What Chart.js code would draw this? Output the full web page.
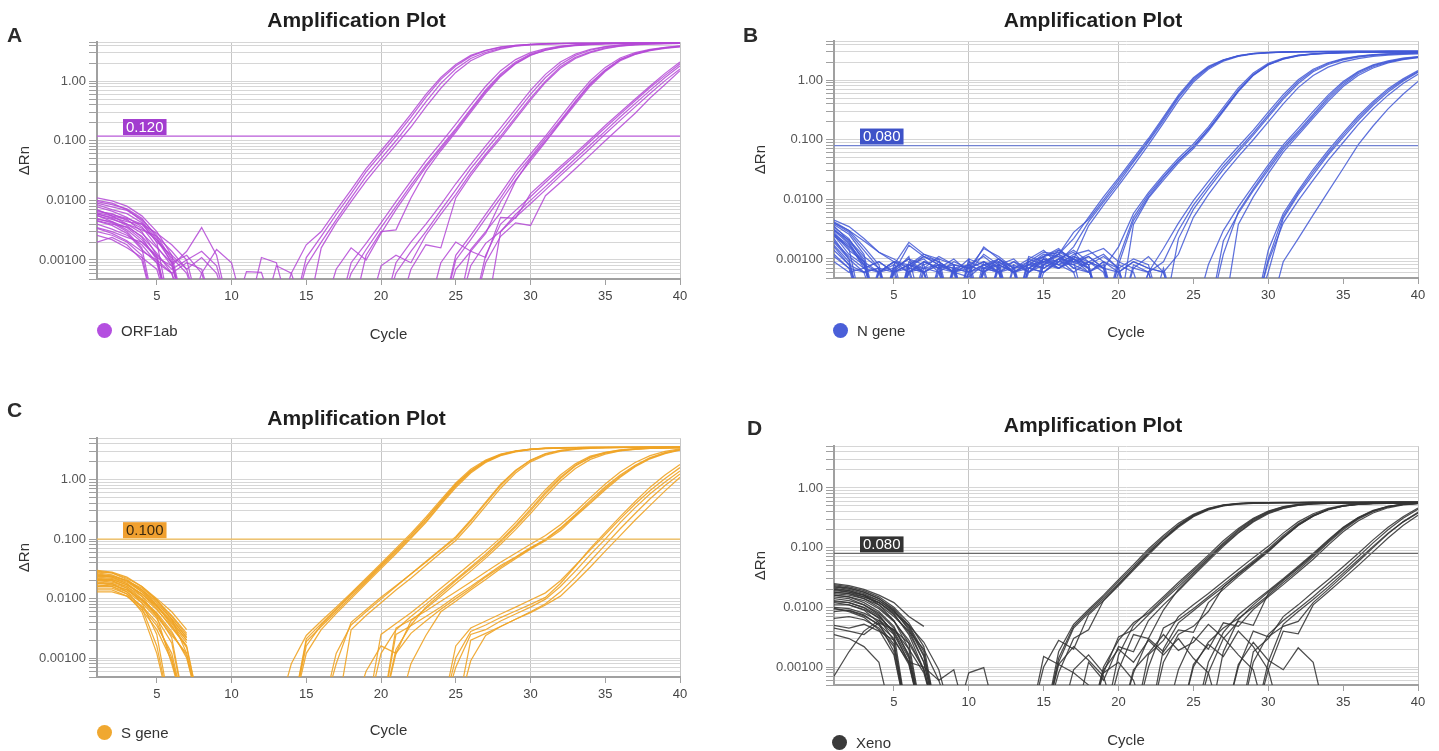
<!DOCTYPE html>
<html><head><meta charset="utf-8">
<script src="https://cdn.jsdelivr.net/npm/chart.js@4.4.1/dist/chart.umd.min.js"></script>
<style>
html,body{margin:0;padding:0;background:#fff;}
body{width:1439px;height:751px;position:relative;overflow:hidden;font-family:'Liberation Sans',Arial,Helvetica,sans-serif;}
canvas{position:absolute;}
.letter{position:absolute;font-weight:bold;font-size:21px;line-height:21px;color:#2b2b2b;}
.leg{position:absolute;display:flex;align-items:center;font-size:15px;color:#333;height:16px;}
.leg .dot{display:inline-block;width:15px;height:15px;border-radius:50%;margin-right:9px;}
</style></head><body>
<canvas id="cA" width="713" height="372" style="left:0px;top:0px"></canvas>
<canvas id="cB" width="704" height="372" style="left:735px;top:0px"></canvas>
<canvas id="cC" width="713" height="352" style="left:0px;top:398px"></canvas>
<canvas id="cD" width="704" height="346" style="left:735px;top:405px"></canvas>
<div class="letter" style="left:7px;top:24px">A</div>
<div class="letter" style="left:743px;top:24px">B</div>
<div class="letter" style="left:7px;top:399px">C</div>
<div class="letter" style="left:747px;top:417px">D</div>
<div class="leg" style="left:97px;top:322px"><span class="dot" style="background:#b44fe0"></span>ORF1ab</div>
<div class="leg" style="left:833px;top:322px"><span class="dot" style="background:#4a5fd8"></span>N gene</div>
<div class="leg" style="left:97px;top:724px"><span class="dot" style="background:#f0a830"></span>S gene</div>
<div class="leg" style="left:832px;top:734px"><span class="dot" style="background:#3a3a3a"></span>Xeno</div>
<script>
Chart.defaults.font.family = "'Liberation Sans', Arial, Helvetica, sans-serif";
const z = 0.0001;   // below the axis floor (trace dives off the bottom)
const _ = null;     // negative ΔRn, not drawn on log axis

const cycles = [1,2,3,4,5,6,7,8,9,10,11,12,13,14,15,16,17,18,19,20,21,22,23,24,25,26,27,28,29,30,31,32,33,34,35,36,37,38,39,40];
const xTicks = [5,10,15,20,25,30,35,40];
const yTicksAB = [0.00048,0.0006,0.0007,0.0008,0.0009,0.001,0.002,0.003,0.004,0.005,0.006,0.007,0.008,0.009,0.01,0.02,0.03,0.04,0.05,0.06,0.07,0.08,0.09,0.1,0.2,0.3,0.4,0.5,0.6,0.7,0.8,0.9,1,2,3,4,4.5];
const yTicksC = [0.00048,0.0006,0.0007,0.0008,0.0009,0.001,0.002,0.003,0.004,0.005,0.006,0.007,0.008,0.009,0.01,0.02,0.03,0.04,0.05,0.06,0.07,0.08,0.09,0.1,0.2,0.3,0.4,0.5,0.6,0.7,0.8,0.9,1,2,3,4,5];
const yTicksD = [0.0005,0.0006,0.0007,0.0008,0.0009,0.001,0.002,0.003,0.004,0.005,0.006,0.007,0.008,0.009,0.01,0.02,0.03,0.04,0.05,0.06,0.07,0.08,0.09,0.1,0.2,0.3,0.4,0.5,0.6,0.7,0.8,0.9,1,2,3,4,5];
const yTickText = {'1':'1.00','0.1':'0.100','0.01':'0.0100','0.001':'0.00100'};
const thresholds = [0.12, 0.08, 0.1, 0.08];
const thresholdText = ['0.120','0.080','0.100','0.080'];
const targets = ['ORF1ab','N gene','S gene','Xeno'];

// ---------- A: ORF1ab ----------
const A01=[.011,.0098,.008,.0055,.003,.0012,z,z,z,z, z,z,z,z,.0011,.0025,.0058,.013,.03,.06, .12,.25,.54,1.07,1.8,2.6,3.25,3.7,4.0,4.15, 4.25,4.3,4.33,4.35,4.36,4.37,4.38,4.38,4.39,4.39];
const A02=[.0095,.0085,.0072,.005,.0024,.0009,z,z,z,z, z,z,z,z,.0008,.002,.0047,.011,.025,.05, .1,.21,.45,.92,1.6,2.4,3.05,3.55,3.9,4.1, 4.2,4.26,4.3,4.32,4.34,4.35,4.36,4.36,4.37,4.37];
const A03=[.0085,.007,.006,.0042,.002,z,z,z,z,z, z,z,z,.0006,.0018,.003,.0068,.015,.034,.068, .135,.28,.6,1.15,1.9,2.7,3.3,3.75,4.0,4.15, 4.25,4.3,4.33,4.35,4.37,4.38,4.39,4.4,4.4,4.41];
const A04=[.0078,.0066,.0052,.0036,.0017,.0008,z,z,z,z, z,z,z,z,z,.0016,.0042,.0095,.021,.043, .085,.17,.37,.76,1.4,2.2,2.9,3.45,3.85,4.05, 4.17,4.24,4.28,4.31,4.33,4.34,4.35,4.36,4.36,4.37];
const A05=[.007,.0055,.0048,.003,.0012,z,z,z,z,z, z,z,z,z,z,z,z,.0006,.0015,.0035, .0079,.018,.039,.079,.16,.34,.71,1.32,2.1,2.85, 3.4,3.8,4.05,4.2,4.28,4.32,4.35,4.37,4.38,4.39];
const A06=[.0065,.006,.0046,.0034,.0022,.0011,.0006,z,z,z, z,z,z,z,z,z,z,.0009,.0019,.0042, .0095,.021,.046,.092,.19,.4,.82,1.5,2.3,3.0, 3.5,3.85,4.05,4.18,4.25,4.3,4.33,4.35,4.36,4.37];
const A07=[.006,.005,.0038,.0024,.001,z,z,z,z,z, z,z,z,z,z,z,.0007,.0016,.001,.0028, .007,.016,.036,.074,.15,.32,.67,1.25,2.0,2.75, 3.3,3.75,4.0,4.15,4.24,4.3,4.33,4.35,4.36,4.37];
const A08=[.0055,.0048,.004,.0028,.0016,.0009,.0012,.0006,z,z, z,z,z,z,z,z,z,z,.0012,.003, .0032,.011,.031,.068,.14,.3,.63,1.2,1.95,2.7, 3.3,3.7,3.95,4.1,4.2,4.27,4.31,4.33,4.35,4.36];
const A09=[.005,.0042,.003,.0016,z,z,z,z,z,z, z,z,z,z,z,z,z,z,z,z, .0006,.0014,.003,.0068,.015,.034,.07,.14,.29,.6, 1.15,1.9,2.7,3.3,3.75,4.0,4.15,4.25,4.3,4.33];
const A10=[.0046,.004,.0036,.0025,.0013,.0006,z,z,z,z, z,z,z,z,z,z,z,z,z,z, .0009,.002,.004,.0085,.019,.04,.082,.165,.34,.7, 1.3,2.1,2.85,3.4,3.8,4.05,4.2,4.28,4.32,4.35];
const A11=[.004,.0033,.0026,.0018,.0009,z,z,z,z,z, z,z,z,z,z,z,z,z,z,.0008, .0012,.0009,.0026,.0058,.0125,.029,.06,.12,.25,.52, 1.0,1.75,2.5,3.1,3.6,3.9,4.1,4.2,4.27,4.31];
const A12=[.0035,.003,.0024,.002,.0012,.0007,.001,z,z,z, z,z,z,z,z,z,z,z,z,z, z,.0007,.0018,.0016,.011,.026,.056,.11,.23,.48, .95,1.65,2.4,3.0,3.5,3.85,4.05,4.17,4.25,4.3];
const A13=[.003,.0026,.002,.0012,z,z,z,z,z,z, z,z,z,z,z,z,z,z,z,z, z,z,z,z,.001,.0022,.005,.011,.026,.053, .11,.22,.46,.92,1.55,2.3,2.85,3.3,3.6,3.8];
const A14=[.0026,.0022,.0016,.0011,.0007,z,z,z,z,z, z,z,z,z,z,z,z,z,z,z, z,z,z,z,.0012,.0026,.0058,.013,.03,.06, .12,.25,.52,1.02,1.7,2.45,3.0,3.4,3.7,3.9];
const A15=[.002,.0024,.0018,.001,z,z,z,z,z,z, z,z,z,z,z,z,z,z,z,z, z,z,z,.0009,.002,.0014,.0028,.0095,.022,.046, .095,.2,.41,.83,1.45,2.2,2.8,3.25,3.55,3.75];
const A16=[.0058,.0052,.0044,.004,.0028,.0018,.001,.0014,.0008,z, z,z,z,z,z,z,z,z,z,z, z,z,z,z,z,.0015,.003,.0062,.021,.05, .1,.21,.44,.88,1.5,2.3,2.9,3.35,3.65,3.85];
const A17=[.009,.0078,.0068,.0048,.0026,.001,z,z,z,z, z,z,z,z,z,z,z,z,z,z, z,z,z,z,z,z,.0012,.004,.0068,.0115, .02,.034,.057,.097,.165,.28,.47,.78,1.25,1.95];
const A18=[.0068,.0058,.005,.004,.002,.0012,.0007,z,z,z, z,z,z,z,z,z,z,z,z,z, z,z,z,z,z,.0008,.0019,.003,.0052,.0088, .015,.026,.044,.075,.13,.22,.37,.62,1.02,1.6];
const A19=[.0048,.0044,.0035,.0022,.0011,z,z,z,z,z, z,z,z,z,z,z,z,z,z,z, z,z,z,z,.0007,.0014,.0011,.0052,.005,.013, .022,.037,.062,.105,.18,.3,.5,.83,1.35,2.1];
const A20=[.0062,.0055,.004,.0032,.0025,.0014,.0007,.0011,.0006,z, z,z,z,z,z,z,z,z,z,z, z,z,z,z,z,z,.0009,.0025,.0042,.0038, .012,.02,.034,.058,.1,.17,.29,.52,.88,1.5];
const A21=[.01,.009,.007,.0045,.0022,.0009,z,z,z,z, z,z,z,z,z,z,z,z,z,z, z,z,z,z,z,z,z,.003,.0058,.01, .017,.029,.05,.085,.145,.25,.42,.7,1.15,1.8];
const A22=[.0056,.0044,.0032,.002,.0011,.0008,.0014,.0035,.0012,z, z,.0011,.0009,z,z,z,z,z,z,z, z,z,z,z,z,z,z,z,z,z, z,z,z,z,z,z,z,z,z,z];
const A23=[.0045,.0038,.0028,.0015,.0009,.0006,.0009,.0007,z,z, .00064,.00062,z,z,z,z,z,z,z,z, z,z,z,z,z,z,z,z,z,z, z,z,z,z,z,z,z,z,z,z];
const A24=[.0034,.0028,.0021,.0014,.001,.0006,z,.0006,.0015,.0009, z,z,.0008,.0006,z,z,z,z,z,z, z,z,z,z,z,z,z,z,z,z, z,z,z,z,z,z,z,z,z,z];
const curvesA=[A01,A02,A03,A04,A05,A06,A07,A08,A09,A10,A11,A12,A13,A14,A15,A16,A17,A18,A19,A20,A21,A22,A23,A24];

// ---------- B: N gene ----------
const B01=[.0042,.003,.0016,.0008,z,.0006,.0009,.0007,z,.0006, .0012,.0008,z,.0007,.001,.0009,.0016,.0042,.009,.019, .042,.092,.21,.5,1.0,1.6,2.15,2.55,2.78,2.9, 2.96,3.0,3.02,3.03,3.04,3.05,3.05,3.06,3.06,3.07];
const B02=[.0038,.0026,.0012,z,.0007,.001,.0006,z,.0008,.0007, z,.0009,.0006,z,.0008,.0012,.0022,.005,.011,.023, .049,.105,.24,.56,1.1,1.7,2.2,2.58,2.8,2.92, 2.98,3.01,3.03,3.04,3.05,3.06,3.06,3.07,3.07,3.08];
const B03=[.0034,.0022,.0009,z,z,.0008,.0012,.0009,.0006,z, .0007,.001,.0006,.0008,.0011,.0007,.001,.0036,.008,.017, .037,.082,.19,.45,.93,1.52,2.08,2.5,2.75,2.88, 2.94,2.97,2.99,3.0,3.01,3.02,3.02,3.03,3.03,3.04];
const B04=[.003,.0018,.0007,.0006,.0009,z,.0007,.0008,z,.001, .0008,.0006,z,.0009,.0013,.0012,.0028,.0046,.0098,.021, .045,.098,.225,.53,1.05,1.65,2.18,2.56,2.78,2.9, 2.96,2.99,3.01,3.02,3.03,3.04,3.04,3.05,3.05,3.05];
const B05=[.0028,.0015,z,.0007,.0006,.0011,z,.0006,.0009,.0007, .0015,.0011,.0007,z,.0006,.0009,.0011,.0008,z,.001, .005,.012,.024,.045,.077,.15,.32,.68,1.25,1.85, 2.3,2.6,2.75,2.85,2.9,2.93,2.95,2.96,2.97,2.97];
const B06=[.0025,.0012,.0008,z,.0006,.0008,.001,.0006,z,.0008, .0006,z,.0007,.001,.0014,.0008,.0006,.0009,.0007,.0016, .0058,.013,.026,.049,.085,.165,.35,.74,1.32,1.92, 2.35,2.62,2.77,2.86,2.91,2.94,2.96,2.97,2.98,2.98];
const B07=[.0022,.001,z,.0006,.0009,.0006,z,.0008,.0007,z, .0009,.0007,z,.0011,.0009,.0012,.0009,.0011,.0007,z, .0038,.0105,.021,.041,.071,.14,.3,.64,1.2,1.8, 2.25,2.56,2.72,2.82,2.88,2.91,2.93,2.94,2.95,2.95];
const B08=[.002,.0011,.0007,.0009,.0006,z,.0009,.0007,.0006,.001, z,.0008,.0006,.0009,.0007,.001,.0013,.0007,z,.0008, .0044,.011,.023,.044,.076,.15,.31,.66,1.22,1.82, 2.28,2.58,2.74,2.84,2.89,2.92,2.94,2.95,2.96,2.96];
const B09=[.0017,.0009,z,z,.0007,.001,.0008,z,.0007,.0006, .0008,.001,.0007,.0008,.0012,.0011,.0007,.0009,.0006,z, .0007,.0006,.0009,.003,.008,.017,.036,.068,.13,.26, .52,.95,1.45,1.9,2.25,2.5,2.65,2.75,2.82,2.87];
const B10=[.0014,.0008,.0006,.0007,z,.0007,.0011,.0009,.0006,z, .0007,z,.0008,.0006,.001,.0007,.001,.0008,.0011,.0007, z,.0006,.0015,.004,.0095,.02,.041,.077,.145,.29, .57,1.02,1.52,1.96,2.3,2.53,2.67,2.77,2.83,2.88];
const B11=[.0045,.0035,.0022,.0013,.001,.0007,.0006,z,.0006,.0008, .0006,.001,.0007,z,.0009,.0011,.0008,.0006,.0009,z, .0008,.0006,z,.0022,.0068,.015,.032,.062,.12,.24, .48,.88,1.38,1.83,2.18,2.43,2.6,2.7,2.78,2.83];
const B12=[.0012,.0007,z,.0006,.0008,.0019,.0012,.001,z,.0006, .0016,.001,.0006,z,.0008,.0014,.001,.0007,z,.0006, .0009,.0007,.0006,.0012,.005,.012,.026,.052,.1,.2, .4,.75,1.2,1.65,2.02,2.3,2.5,2.62,2.7,2.76];
const B13=[.004,.0028,.0014,.0007,z,.0006,.0008,.001,.0008,z, .0006,.0009,z,.0007,.0011,.0015,.0009,.0007,z,.0008, .0006,z,.0007,z,z,z,.0012,.0062,.015,.034, .075,.14,.27,.52,.9,1.35,1.75,2.05,2.3,2.45];
const B14=[.0036,.002,.001,z,.0008,.0006,.0009,.0007,.0008,.0007, .0009,.0006,z,.001,.0008,.0007,.0011,.0009,.0012,.0007, z,.0006,z,z,z,.0008,.003,.0075,.017,.038, .082,.155,.3,.56,.95,1.4,1.8,2.1,2.33,2.48];
const B15=[.0032,.0019,.0008,.0006,z,.0009,.0006,.0008,z,.0006, .0007,.0008,.0006,.0008,.0009,.0012,.0007,.0006,.0008,z, z,z,z,z,z,z,.002,.0058,.014,.031, .069,.13,.25,.48,.84,1.28,1.68,2.0,2.25,2.4];
const B16=[.0026,.0014,.0009,.0006,.0007,z,.0006,.0009,.0006,.0008, z,.0007,.0009,.0006,.001,.0008,.0012,.0014,.0009,.0006, z,z,z,z,z,z,z,.0038,.011,.027, .062,.12,.23,.44,.78,1.2,1.6,1.95,2.2,2.38];
const B17=[.0024,.0016,.0008,z,.0006,.0007,z,.0007,.001,.0006, .0008,.0009,.0006,.0008,.0007,.001,.0006,z,z,z, z,z,z,z,z,z,z,z,z,.0014, .0058,.014,.032,.066,.13,.25,.44,.72,1.05,1.45];
const B18=[.0019,.001,.0006,.0007,z,.0008,.0007,.0006,z,.0009, .0007,.0006,.0008,z,.0011,.0013,.001,.0008,z,z, z,z,z,z,z,z,z,z,z,.0009, .004,.0095,.021,.045,.09,.18,.33,.56,.88,1.25];
const B19=[.0016,.0008,z,.0006,.0009,.0007,.0006,.0008,.0007,z, .0006,.0008,.001,.0006,.0009,.0007,.0009,z,z,z, z,z,z,z,z,z,z,z,z,.0006, .0048,.012,.026,.056,.11,.21,.38,.63,.96,1.35];
const B20=[.0011,.0007,.0006,z,.0006,.0008,.0006,z,.0007,.0008, .0011,.0007,z,.0006,.0008,.001,.0014,.0009,.0007,z, z,z,z,z,z,z,z,z,z,z, .0009,.0022,.0055,.0135,.033,.082,.17,.33,.58,.95];
const B21=[.004,.003,.002,.0013,.0009,.0008,.0006,z,.0007,.0006, z,.0008,.0006,.0007,.0009,.0008,.001,.0007,z,z, z,z,z,z,z,z,z,z,z,.001, .0052,.013,.029,.06,.12,.23,.41,.68,1.0,1.4];
const B22=[.003,.0021,.0011,.0007,z,.0006,.0007,.0011,.0008,z, .0007,.0006,.0009,.0007,.0006,.001,.0009,.0012,.0015,.0009, .0007,.0011,.0006,z,z,z,z,z,z,z, z,z,z,z,z,z,z,z,z,z];
const B23=[.0026,.0017,.0009,z,.0006,.0008,.0011,.0008,.0006,.0007, .0009,.0006,.0007,.0009,.0011,.0014,.001,.0006,.0009,.0007, .001,.0008,z,z,z,z,z,z,z,z, z,z,z,z,z,z,z,z,z,z];
const B24=[.0009,.0006,.0007,.0009,.0006,.0017,.0011,.0008,.0006,.0005, .0008,.0006,z,.0007,.0006,.0009,.0008,.0011,.0007,.0006, .0009,.0007,.0006,z,z,z,z,z,z,z, z,z,z,z,z,z,z,z,z,z];
const curvesB=[B01,B02,B03,B04,B05,B06,B07,B08,B09,B10,B11,B12,B13,B14,B15,B16,B17,B18,B19,B20,B21,B22,B23,B24];

// ---------- C: S gene ----------
const C01=[.028,.027,.022,.016,.01,.006,.003,_,z,z, z,z,z,z,.0019,.0034,.006,.0107,.019,.034, .06,.108,.2,.4,.78,1.35,2.0,2.6,3.0,3.25, 3.38,3.45,3.48,3.5,3.51,3.52,3.52,3.53,3.53,3.54];
const C02=[.026,.024,.02,.014,.009,.0052,.0026,_,z,z, z,z,z,.0008,.0024,.0042,.0072,.0125,.022,.039, .07,.125,.235,.46,.88,1.5,2.15,2.7,3.05,3.28, 3.4,3.46,3.49,3.5,3.51,3.52,3.52,3.53,3.53,3.54];
const C03=[.02,.019,.016,.011,.0065,.0034,.0015,z,z,z, z,z,z,z,.0012,.003,.0056,.01,.018,.032, .057,.103,.19,.38,.74,1.3,1.95,2.55,2.95,3.2, 3.35,3.42,3.46,3.48,3.5,3.5,3.51,3.51,3.52,3.52];
const C04=[.03,.028,.023,.016,.0095,.0045,.0012,z,z,z, z,z,z,z,.0016,.0036,.0065,.0115,.02,.036, .064,.115,.215,.42,.82,1.4,2.05,2.65,3.0,3.25, 3.38,3.45,3.48,3.5,3.5,3.51,3.52,3.52,3.53,3.53];
const C05=[.027,.025,.02,.013,.0075,.0038,.0018,_,z,z, z,z,z,z,.0021,.0038,.0068,.012,.021,.037, .066,.118,.22,.43,.84,1.42,2.08,2.66,3.02,3.26, 3.39,3.45,3.48,3.5,3.51,3.52,3.52,3.53,3.53,3.54];
const C06=[.024,.023,.019,.013,.008,.0046,.0022,_,z,z, z,z,z,z,z,z,.0008,.004,.0065,.0105, .0165,.026,.041,.066,.105,.2,.4,.8,1.4,2.1, 2.7,3.1,3.32,3.43,3.47,3.5,3.51,3.52,3.52,3.53];
const C07=[.018,.018,.015,.0098,.0058,.0028,.001,z,z,z, z,z,z,z,z,z,.0012,.0036,.006,.0098, .016,.026,.042,.068,.11,.21,.42,.84,1.45,2.15, 2.75,3.12,3.33,3.44,3.48,3.5,3.51,3.52,3.52,3.53];
const C08=[.025,.023,.018,.011,.005,.0008,z,z,z,z, z,z,z,z,z,z,z,.003,.0052,.0085, .014,.022,.036,.059,.095,.18,.36,.72,1.3,2.0, 2.6,3.0,3.25,3.38,3.45,3.48,3.5,3.51,3.51,3.52];
const C09=[.022,.021,.017,.012,.0072,.004,.002,_,z,z, z,z,z,z,z,z,z,z,z,.0012, .003,.005,.008,.013,.021,.034,.056,.095,.17,.32, .62,1.1,1.75,2.4,2.85,3.15,3.32,3.4,3.45,3.48];
const C10=[.016,.016,.013,.0085,.0046,.0018,z,z,z,z, z,z,z,z,z,z,z,z,z,.0025, .0038,.0058,.0092,.015,.024,.039,.063,.105,.19,.36, .68,1.2,1.85,2.5,2.9,3.18,3.33,3.41,3.45,3.48];
const C11=[.021,.02,.015,.0085,.0025,z,z,z,z,z, z,z,z,z,z,z,z,z,.0006,.0016, .0012,.0042,.0068,.011,.018,.029,.048,.082,.145,.27, .52,.95,1.55,2.2,2.7,3.05,3.25,3.36,3.42,3.46];
const C12=[.023,.022,.018,.012,.0068,.0032,.0016,z,z,z, z,z,z,z,z,z,z,z,z,z, .0014,.0036,.0072,.012,.02,.032,.052,.09,.16,.3, .58,1.05,1.7,2.35,2.8,3.1,3.28,3.38,3.43,3.47];
const C13=[.015,.015,.012,.0075,.004,.001,z,z,z,z, z,z,z,z,z,z,z,z,z,z, .0025,.0035,.005,.0072,.011,.016,.024,.036,.05,.072, .098,.15,.25,.42,.72,1.15,1.7,2.3,2.8,3.2];
const C14=[.019,.018,.013,.007,.0016,z,z,z,z,z, z,z,z,z,z,z,z,z,z,z, .0032,.0044,.0062,.009,.013,.019,.028,.041,.058,.082, .115,.175,.29,.5,.85,1.35,1.95,2.55,3.0,3.3];
const C15=[.017,.016,.012,.006,.0012,z,z,z,z,z, z,z,z,z,z,z,z,z,z,z, z,.0008,.0024,.006,.009,.014,.021,.032,.047,.068, .094,.14,.24,.4,.68,1.1,1.65,2.25,2.75,3.15];
const C16=[.02,.02,.016,.01,.0055,.0022,z,z,z,z, z,z,z,z,z,z,z,z,z,z, .0012,.0026,.0042,.0066,.01,.015,.023,.034,.049,.07, .1,.155,.26,.45,.76,1.2,1.75,2.35,2.85,3.2];
const C17=[.014,.014,.011,.0065,.003,.0009,z,z,z,z, z,z,z,z,z,z,z,z,z,z, z,z,z,z,.001,.0028,.0036,.0048,.0062,.008, .0105,.018,.035,.07,.13,.24,.43,.75,1.2,1.8];
const C18=[.016,.017,.014,.0092,.005,.0024,.0012,_,z,z, z,z,z,z,z,z,z,z,z,z, z,z,z,z,.0016,.0032,.0042,.0055,.0072,.0095, .0125,.02,.036,.066,.12,.22,.39,.66,1.05,1.6];
const C19=[.025,.024,.02,.014,.0085,.0045,.0022,_,z,z, z,z,z,z,z,z,z,z,z,z, z,z,z,z,z,.002,.0026,.0034,.0045,.006, .0082,.013,.023,.043,.08,.15,.27,.48,.8,1.25];
const C20=[.021,.021,.017,.012,.0075,.0042,.002,_,z,z, z,z,z,z,z,z,z,z,z,z, z,z,z,z,.0007,.0025,.003,.0042,.0055,.0072, .0098,.016,.029,.055,.1,.19,.34,.58,.92,1.4];
const C21=[.018,.017,.014,.0095,.0055,.0026,.0011,z,z,z, z,z,z,z,z,z,z,z,z,z, z,z,z,z,z,.0009,.0024,.0034,.0045,.0058, .0078,.011,.019,.034,.063,.115,.21,.37,.65,1.1];
const C22=[.029,.027,.021,.014,.0078,.0035,.0016,_,z,z, z,z,z,z,z,z,z,z,z,z, z,z,z,z,z,z,z,z,z,z, z,z,z,z,z,z,z,z,z,z];
const C23=[.024,.024,.02,.015,.0095,.005,.0024,_,z,z, z,z,z,z,z,z,z,z,z,z, z,z,z,z,z,z,z,z,z,z, z,z,z,z,z,z,z,z,z,z];
const C24=[.013,.013,.011,.0072,.0035,.0012,z,z,z,z, z,z,z,z,z,z,z,z,z,z, z,z,z,z,z,z,z,z,z,z, z,z,z,z,z,z,z,z,z,z];
const curvesC=[C01,C02,C03,C04,C05,C06,C07,C08,C09,C10,C11,C12,C13,C14,C15,C16,C17,C18,C19,C20,C21,C22,C23,C24];

// ---------- D: Xeno ----------
const D01=[.024,.022,.019,.015,.01,.0055,.0022,z,z,z, z,z,z,z,z,.0012,.0045,.008,.014,.025, .045,.082,.14,.23,.34,.44,.51,.545,.56,.565, .57,.57,.572,.574,.575,.575,.576,.577,.578,.578];
const D02=[.022,.02,.017,.013,.0085,.0045,.0015,z,z,z, z,z,z,z,z,.0018,.0052,.0092,.016,.029, .052,.095,.16,.255,.36,.455,.52,.55,.565,.57, .575,.575,.578,.58,.58,.58,.58,.582,.582,.582];
const D03=[.02,.019,.016,.012,.0075,.0038,.0012,z,z,z, z,z,z,z,.001,.0028,.002,.0075,.013,.023, .042,.076,.135,.22,.33,.43,.5,.535,.55,.555, .56,.56,.562,.564,.565,.565,.566,.566,.567,.567];
const D04=[.018,.017,.014,.01,.006,.0025,z,z,z,z, z,z,z,z,z,.0008,.003,.0042,.013,.024, .044,.08,.14,.23,.34,.44,.505,.54,.555,.56, .565,.568,.57,.57,.572,.572,.573,.574,.574,.575];
const D05=[.016,.015,.012,.0085,.0048,.0015,z,z,z,z, z,z,z,z,z,.0014,.0048,.0086,.015,.027, .048,.088,.15,.24,.35,.45,.515,.548,.56,.565, .568,.57,.572,.574,.575,.575,.576,.576,.577,.577];
const D06=[.015,.014,.011,.0075,.0036,z,z,z,z,z, z,z,z,z,z,z,z,z,.0008,.0032, .0042,.0075,.013,.022,.038,.066,.115,.19,.29,.39, .47,.52,.545,.555,.56,.563,.565,.566,.567,.568];
const D07=[.013,.012,.0098,.0065,.0028,z,z,z,z,z, z,z,z,z,z,z,z,z,z,.0016, .005,.0088,.015,.026,.044,.075,.13,.21,.31,.41, .485,.53,.55,.56,.565,.568,.57,.57,.572,.572];
const D08=[.012,.011,.009,.0055,.0018,z,z,z,z,z, z,z,z,z,z,z,z,.0012,.0006,.0022, .0018,.006,.011,.019,.034,.06,.105,.175,.27,.37, .455,.51,.54,.55,.555,.558,.56,.561,.562,.563];
const D09=[.01,.0095,.008,.006,.0035,.0012,z,z,z,z, z,z,z,z,z,z,z,z,z,.0009, .0035,.003,.009,.02,.036,.064,.11,.18,.28,.38, .46,.515,.54,.552,.558,.56,.562,.563,.564,.565];
const D10=[.0085,.009,.0075,.005,.0024,z,z,z,z,z, z,z,z,z,z,z,z,z,.001,.0028, .0055,.008,.014,.024,.041,.07,.12,.2,.3,.4, .48,.525,.548,.558,.562,.565,.567,.568,.569,.57];
const D11=[.025,.023,.02,.016,.012,.007,.0048,_,z,z, z,z,z,z,z,z,z,z,z,z, z,.001,.0045,.0062,.0095,.015,.024,.038,.06,.095, .16,.25,.35,.44,.5,.535,.55,.558,.562,.565];
const D12=[.0007,.0018,.004,.006,.0042,.002,.0008,z,z,z, z,z,z,z,z,z,z,z,z,z, z,.0016,.0028,.007,.011,.017,.027,.043,.068,.105, .175,.27,.37,.455,.51,.54,.553,.56,.564,.566];
const D13=[.005,.0045,.0052,.004,.0028,.0012,.001,.0006,z,z, z,z,z,z,z,z,z,z,z,z, .0008,.003,.0018,.0042,.0038,.012,.02,.033,.053,.085, .145,.235,.335,.43,.495,.53,.545,.553,.558,.56];
const D14=[.019,.018,.015,.012,.0082,.005,.0026,.0009,z,z, z,z,z,z,z,z,z,z,z,z, z,z,.0012,.0035,.0048,.0085,.022,.036,.057,.09, .15,.24,.34,.435,.5,.535,.55,.557,.56,.562];
const D15=[.021,.019,.016,.011,.006,.002,z,z,z,z, z,z,z,z,z,z,z,z,z,z, z,z,.002,.0055,.0088,.014,.022,.035,.056,.088, .148,.24,.34,.435,.495,.53,.545,.552,.556,.558];
const D16=[.017,.016,.014,.011,.007,.004,.002,.0006,.0009,z, z,z,z,z,z,z,z,z,z,z, z,z,z,z,.001,.0026,.0045,.0065,.01,.016, .026,.042,.07,.12,.2,.3,.4,.48,.53,.55];
const D17=[.023,.021,.018,.014,.0095,.005,.0018,z,z,z, z,z,z,z,z,z,z,z,z,z, z,z,z,z,z,.0012,.0038,.0075,.012,.019, .03,.049,.08,.135,.22,.32,.42,.49,.535,.555];
const D18=[.014,.013,.011,.008,.0045,.0016,z,z,z,.0008, .00098,z,z,z,z,z,z,z,z,z, z,z,z,.0009,.0032,.002,.0055,.0048,.0092,.015, .024,.039,.064,.11,.185,.28,.38,.465,.52,.545];
const D19=[.011,.011,.0092,.0068,.004,.0014,z,z,z,z, z,z,z,z,z,z,z,z,z,z, z,z,z,z,z,.0008,.003,.0058,.005,.017, .028,.045,.074,.125,.21,.31,.41,.485,.53,.55];
const D20=[.0095,.0088,.0072,.0052,.003,.0011,z,z,z,z, z,z,z,z,z,z,z,z,z,z, z,z,z,z,z,z,.0018,.0062,.011,.018, .029,.047,.077,.13,.215,.315,.415,.49,.53,.552];
const D21=[.022,.021,.018,.014,.009,.0042,.0012,z,z,z, z,z,z,z,z,z,z,z,z,z, z,z,z,z,z,z,z,z,.0012,.0035, .006,.0095,.015,.025,.041,.07,.12,.2,.31,.44];
const D22=[.018,.017,.015,.012,.0078,.0035,.0009,z,z,z, z,z,z,z,z,z,z,z,z,z, z,z,z,z,z,z,z,z,z,.0012, .0052,.0085,.0135,.022,.037,.062,.105,.175,.27,.39];
const D23=[.0125,.012,.01,.0072,.0038,.0012,z,z,z,z, z,z,z,z,z,z,z,z,z,z, z,z,z,z,z,z,z,.001,.004,.0032, .0048,.0058,.012,.02,.034,.058,.1,.17,.27,.38];
const D24=[.0065,.007,.0062,.0045,.0022,z,z,z,z,z, z,z,z,z,z,z,z,z,z,z, z,z,z,z,z,z,z,z,.0018,.003, .007,.011,.018,.029,.048,.08,.135,.22,.33,.46];
const D25=[.02,.018,.016,.013,.0088,.0048,.0016,z,z,z, z,z,z,z,z,z,z,z,z,z, z,z,z,z,z,z,z,z,z,.0009, .004,.0036,.011,.018,.03,.05,.085,.145,.235,.35];
const D26=[.016,.015,.013,.0095,.0058,.0028,.0009,z,z,z, z,z,z,z,.0015,.0011,.0008,.0005,z,z, z,z,z,z,z,z,z,z,z,z, z,z,z,z,z,z,z,z,z,z];
const D27=[.0045,.004,.0035,.0055,.0042,.0025,.0009,z,z,z, z,z,z,z,z,z,.0009,.0016,.0008,.0012, .0006,z,z,z,.0011,.0024,.0015,.004,.0022,.0009, z,z,z,z,z,z,z,z,z,z];
const D28=[.0035,.003,.0022,.0012,z,z,z,z,z,z, z,z,z,z,z,z,z,z,.0009,.002, .0012,.0028,.0016,.003,.0014,.0008,z,.0011,.0026,.0013, .0009,.0021,.0012,z,z,z,z,z,z,z];
const D29=[.0095,.0085,.0068,.0042,.0016,z,z,z,z,z, z,z,z,z,z,.0011,.0022,.0013,.0007,z, .0009,.0017,.0035,.0019,.0026,.0052,.0031,.0016,.0009,z, z,z,z,z,z,z,z,z,z,z];
const curvesD=[D01,D02,D03,D04,D05,D06,D07,D08,D09,D10,D11,D12,D13,D14,D15,D16,D17,D18,D19,D20,D21,D22,D23,D24,D25,D26,D27,D28,D29];

const thrLabel = {
  id: 'thrLabel',
  afterDatasetsDraw(chart, args, opts) {
    const {ctx, chartArea, scales} = chart;
    const py = scales.y.getPixelForValue(opts.value);
    ctx.save();
    ctx.font = "15px 'Liberation Sans', Arial, sans-serif";
    const w = ctx.measureText(opts.text).width + 6;
    const h = 16;
    const x0 = chartArea.left + 26;
    ctx.fillStyle = opts.bg;
    ctx.fillRect(x0, py - h - 1, w, h);
    ctx.fillStyle = opts.fg;
    ctx.textBaseline = 'middle';
    ctx.textAlign = 'left';
    ctx.fillText(opts.text, x0 + 3, py - h / 2 - 0.5);
    ctx.restore();
  }
};

function panel(p, i) {
  const datasets = [{
    data: [{x: 1, y: thresholds[i]}, {x: 40, y: thresholds[i]}],
    borderColor: p.thrColor, borderWidth: 1.2, pointRadius: 0
  }].concat(p.curves.map(c => ({
    data: c, borderColor: p.color, borderWidth: 1.25, pointRadius: 0, tension: 0, spanGaps: false
  })));
  new Chart(document.getElementById(p.id), {
    type: 'line',
    data: {labels: cycles, datasets},
    plugins: [thrLabel],
    options: {
      responsive: false, animation: false, devicePixelRatio: 1, events: [],
      layout: {padding: p.pad},
      plugins: {
        legend: {display: false}, tooltip: {enabled: false},
        title: {display: true, text: 'Amplification Plot', color: '#1e1e1e',
                font: {size: 21, weight: 'bold'}, padding: p.titlePad},
        thrLabel: {value: thresholds[i], text: thresholdText[i], bg: p.box, fg: p.boxText}
      },
      scales: {
        x: {
          type: 'linear', min: 1, max: 40,
          afterBuildTicks: s => { s.ticks = xTicks.map(v => ({value: v})); },
          afterFit: s => { s.height = p.xH; },
          ticks: {autoSkip: false, maxRotation: 0, padding: 4, color: '#444', font: {size: 13}},
          grid: {color: c => (c.tick && c.tick.value % 10 === 0) ? '#c6c6c6' : 'rgba(0,0,0,0)',
                 tickColor: '#a0a0a0', tickLength: 6, lineWidth: 1},
          border: {color: '#a0a0a0', width: 2},
          title: {display: true, text: 'Cycle', color: '#333', font: {size: 15}, padding: {top: 0, bottom: 1}}
        },
        y: {
          type: 'logarithmic', min: p.yMin, max: p.yMax,
          afterBuildTicks: s => { s.ticks = p.yTicks.map(v => ({value: v})); },
          afterFit: s => { s.width = p.yW; },
          ticks: {autoSkip: false, padding: 3, color: '#555', font: {size: 13},
                  callback: v => yTickText[String(v)] || ''},
          grid: {color: '#d6d6d6', tickColor: '#a0a0a0', tickLength: 8, lineWidth: 1},
          border: {color: '#a0a0a0', width: 2},
          title: {display: true, text: 'ΔRn', color: '#333', font: {size: 15}, padding: {top: p.yTitlePad, bottom: 0}}
        }
      }
    }
  });
}

[
  {id: 'cA', curves: curvesA, color: 'rgba(180,72,214,0.85)', thrColor: '#b85ad8', box: '#a23ccf', boxText: '#ffffff',
   yMin: 0.00048, yMax: 4.5, yTicks: yTicksAB, yW: 64, xH: 66,
   pad: {left: 33, right: 33, top: 0, bottom: 27}, titlePad: {top: 9, bottom: 8}, yTitlePad: -17},
  {id: 'cB', curves: curvesB, color: 'rgba(66,88,214,0.85)', thrColor: '#7282d2', box: '#3e52c8', boxText: '#ffffff',
   yMin: 0.00048, yMax: 4.5, yTicks: yTicksAB, yW: 66, xH: 65,
   pad: {left: 33, right: 21, top: 0, bottom: 29}, titlePad: {top: 9, bottom: 7}, yTitlePad: -16},
  {id: 'cC', curves: curvesC, color: 'rgba(240,164,38,0.9)', thrColor: '#f2bb55', box: '#f0a030', boxText: '#3b2a10',
   yMin: 0.00048, yMax: 5, yTicks: yTicksC, yW: 64, xH: 64,
   pad: {left: 33, right: 33, top: 0, bottom: 9}, titlePad: {top: 9, bottom: 6}, yTitlePad: -17},
  {id: 'cD', curves: curvesD, color: 'rgba(52,52,52,0.88)', thrColor: '#6a6a6a', box: '#333333', boxText: '#ffffff',
   yMin: 0.0005, yMax: 5, yTicks: yTicksD, yW: 66, xH: 66,
   pad: {left: 33, right: 21, top: 0, bottom: 0}, titlePad: {top: 9, bottom: 7}, yTitlePad: -16}
].forEach(panel);
</script>
</body></html>
